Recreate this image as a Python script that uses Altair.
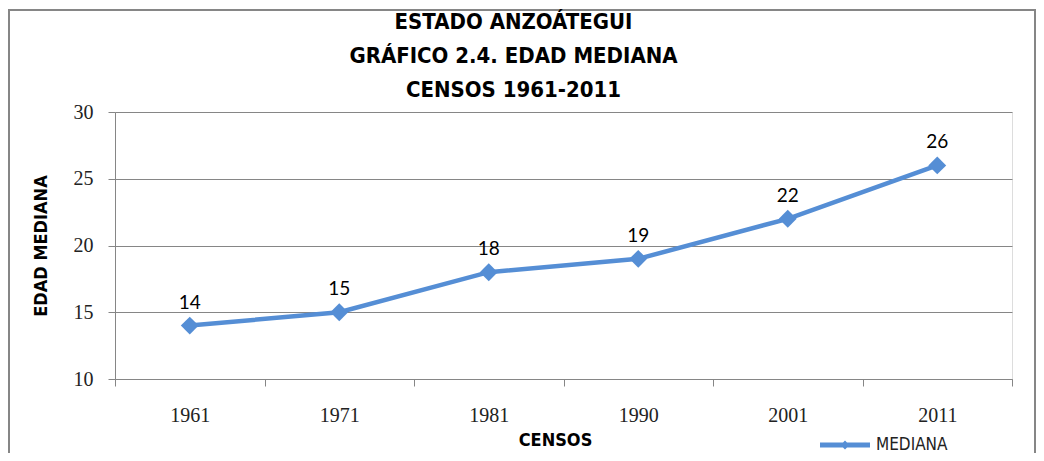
import altair as alt
import pandas as pd

censos = ["1961", "1971", "1981", "1990", "2001", "2011"]
mediana = [14, 15, 18, 19, 22, 26]
serie = "MEDIANA"
titulo = ["ESTADO ANZOÁTEGUI", "GRÁFICO 2.4. EDAD MEDIANA", "CENSOS 1961-2011"]

df = pd.DataFrame({"censo": censos, "mediana": mediana, "serie": [serie] * len(censos)})

BLUE = "#558ED5"
GRAY = "#868686"
TFONT = "Liberation Sans Narrow, DejaVu Sans Condensed, sans-serif"
NFONT = "Liberation Serif, DejaVu Serif, serif"

x = alt.X("censo:N", sort=censos, title="CENSOS",
          scale=alt.Scale(type="band", paddingInner=0, paddingOuter=0),
          axis=alt.Axis(labelAngle=0, tickBand="extent", tickSize=7, labelPadding=19,
                        labelFontSize=20, labelFont=NFONT, labelColor="#222222",
                        titleFontSize=18, titleFont=TFONT, titleFontWeight="bold",
                        titleColor="#000000", titlePadding=6, titleX=440,
                        domainColor=GRAY, tickColor=GRAY, grid=False))
y = alt.Y("mediana:Q", title="EDAD MEDIANA",
          scale=alt.Scale(domain=[10, 30], nice=False, zero=False),
          axis=alt.Axis(values=[10, 15, 20, 25, 30], tickSize=7, labelPadding=15,
                        labelFontSize=20, labelFont=NFONT, labelColor="#222222",
                        titleFontSize=18, titleFont=TFONT, titleFontWeight="bold",
                        titleColor="#000000", titlePadding=23,
                        domainColor=GRAY, tickColor=GRAY, gridColor=GRAY, gridWidth=1))

legend_path = ("M-2.5,-0.24L2.5,-0.24L2.5,0.24L-2.5,0.24Z"
               "M0,-0.45L0.45,0L0,0.45L-0.45,0Z")

color = alt.Color("serie:N", scale=alt.Scale(range=[BLUE]), title=None,
                  legend=alt.Legend(orient="none", legendX=720, legendY=323,
                                    symbolType=legend_path, symbolSize=400,
                                    symbolFillColor=BLUE, symbolStrokeWidth=0,
                                    labelFont=TFONT, labelFontSize=17,
                                    labelColor="#222222", labelOffset=21))

line = alt.Chart(df).mark_line(strokeWidth=4.5, color=BLUE).encode(x=x, y=y, color=color)
pts = alt.Chart(df).mark_point(shape="diamond", filled=True, size=320, opacity=1,
                               color=BLUE).encode(x=x, y=y)
labels = alt.Chart(df).mark_text(dy=-23, fontSize=19, font="Lato, Open Sans, sans-serif",
                                 color="#000000").encode(x=x, y=y, text="mediana:Q")
border = alt.Chart(df).mark_rect(fill=None, stroke=GRAY, strokeWidth=1.5).encode(
    x=alt.value(-106), x2=alt.value(920), y=alt.value(-102), y2=alt.value(400))

chart = alt.layer(border, line, pts, labels).properties(
    width=897, height=267,
    autosize=alt.AutoSizeParams(type="none"),
    padding={"left": 107, "top": 104, "right": 24, "bottom": 74},
    title=alt.TitleParams(text=titulo, fontSize=22, font=TFONT, fontWeight="bold",
                          color="#000000", anchor="middle", frame="group", dx=-50,
                          lineHeight=34, offset=0, dy=115, baseline="bottom"),
).configure_view(stroke=None).configure(background="white")

chart.save("out.html", embed_options={"renderer": "svg", "actions": False})
